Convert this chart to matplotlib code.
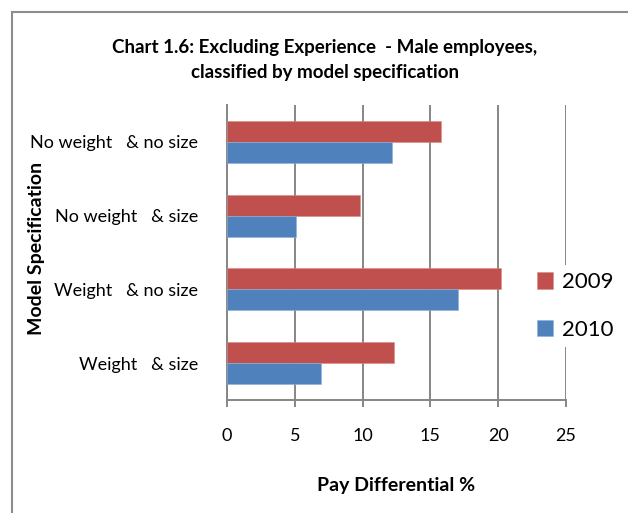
#!/usr/bin/env python3
# plot.py - horizontal bar chart of pay differential by model specification
import matplotlib.pyplot as plt
import numpy as np
from matplotlib.patches import Rectangle

plt.rcParams['font.family'] = ['Lato', 'DejaVu Sans']

categories = ['No weight   & no size', 'No weight   & size',
              'Weight   & no size', 'Weight   & size']
values_2009 = [15.8, 9.8, 20.2, 12.3]
values_2010 = [12.2, 5.1, 17.0, 6.95]
series_labels = ['2009', '2010']
x_ticks = [0, 5, 10, 15, 20, 25]

red = '#C0504D'
blue = '#4F81BD'
grid_gray = '#868686'

fig = plt.figure(figsize=(6.28, 5.13), dpi=100)
ax = fig.add_axes([227 / 628, 1 - 400 / 513, (566 - 227) / 628, (400 - 105) / 513])

# outer chart frame (only left and top edges are visible in the crop)
fig.patches.append(Rectangle((12 / 628, -0.1), 1.2, 1 - 12 / 513 + 0.1,
                             transform=fig.transFigure, fill=False,
                             edgecolor='#8c8c8c', linewidth=1.5))

y = np.arange(len(categories))
h = 0.286
ax.barh(y - h / 2, values_2009, height=h, color=red, label=series_labels[0],
        edgecolor='#d98a88', linewidth=0.4, zorder=3)
ax.barh(y + h / 2, values_2010, height=h, color=blue, label=series_labels[1],
        edgecolor='#8fb0d9', linewidth=0.4, zorder=3)

ax.set_ylim(len(categories) - 0.5, -0.5)
ax.set_xlim(0, 25)
ax.set_xticks(x_ticks)
ax.set_yticks(y)
ax.set_yticklabels(categories, fontsize=13)
ax.tick_params(axis='y', length=0, pad=21)
ax.tick_params(axis='x', length=5, width=1.4, color=grid_gray, pad=15, labelsize=13)

ax.grid(axis='x', color=grid_gray, linewidth=1.4, zorder=0)
for side in ['top', 'right']:
    ax.spines[side].set_visible(False)
for side in ['left', 'bottom']:
    ax.spines[side].set_color(grid_gray)
    ax.spines[side].set_linewidth(1.4)

ax.set_xlabel('Pay Differential %', fontsize=14, fontweight='bold', labelpad=24)
fig.text(37 / 628, 1 - 248 / 513, 'Model Specification', rotation=90,
         fontsize=14, fontweight='bold', ha='center', va='center')

fig.text(325 / 628, 1 - 60 / 513,
         'Chart 1.6: Excluding Experience  - Male employees,\nclassified by model specification',
         fontsize=13.5, fontweight='bold', ha='center', va='center', linespacing=1.6)

leg = ax.legend(loc='center left', bbox_to_anchor=(530 / 628, 1 - 306 / 513),
                bbox_transform=fig.transFigure, frameon=True, fontsize=16,
                handlelength=0.75, handleheight=0.75, handletextpad=0.4,
                labelspacing=1.25, borderpad=0.3, borderaxespad=0)
leg.get_frame().set_facecolor('white')
leg.get_frame().set_edgecolor('none')
leg.get_frame().set_alpha(1)
leg.set_zorder(5)

fig.savefig('out.png', dpi=100)
